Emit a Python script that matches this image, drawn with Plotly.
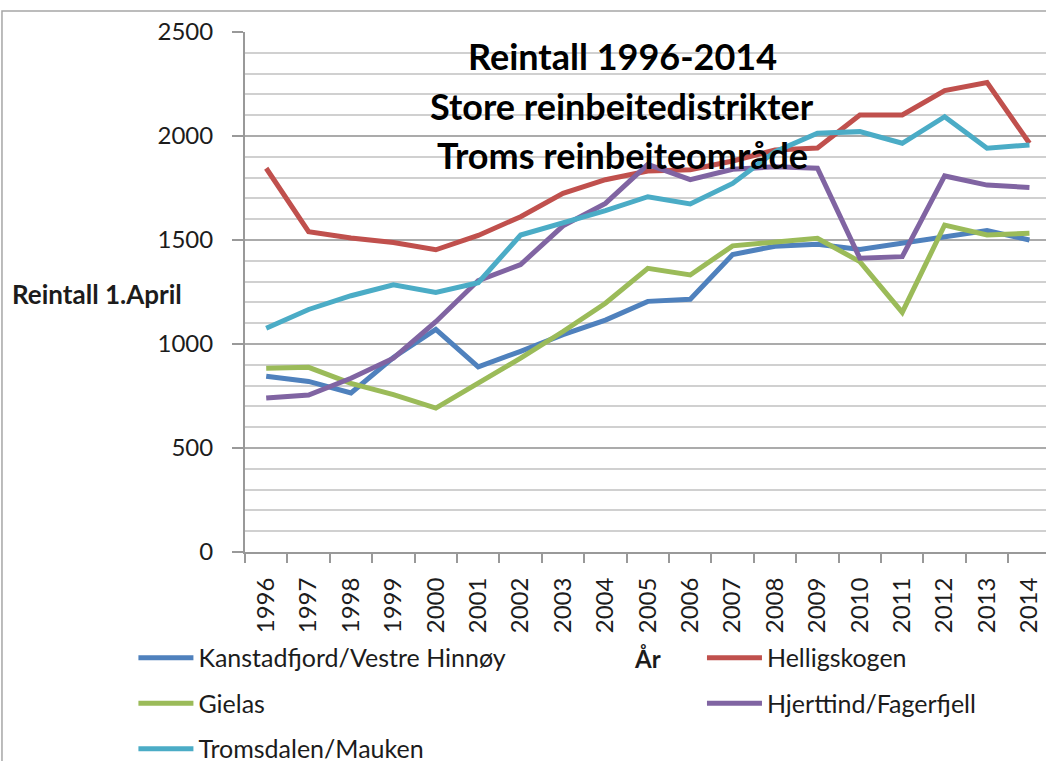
import plotly.graph_objects as go

years = [str(y) for y in range(1996, 2015)]

kanstadfjord = [845, 820, 765, 935, 1070, 890, 965, 1045, 1115, 1205, 1215, 1430, 1470, 1480, 1455, 1487, 1517, 1545, 1500]
helligskogen = [1845, 1540, 1510, 1488, 1453, 1522, 1612, 1724, 1790, 1832, 1838, 1880, 1933, 1942, 2101, 2101, 2218, 2257, 1965]
gielas = [883, 888, 811, 757, 692, 812, 932, 1060, 1196, 1364, 1332, 1472, 1487, 1508, 1396, 1152, 1572, 1524, 1532]
hjerttind = [740, 755, 835, 932, 1107, 1305, 1382, 1568, 1676, 1864, 1790, 1840, 1852, 1845, 1412, 1420, 1808, 1764, 1753]
tromsdalen = [1076, 1166, 1232, 1285, 1248, 1295, 1524, 1580, 1641, 1708, 1673, 1772, 1925, 2013, 2021, 1965, 2093, 1941, 1957]

series = [
    ("Kanstadfjord/Vestre Hinnøy", kanstadfjord, "#4F81BD", "legend"),
    ("Helligskogen", helligskogen, "#C0504D", "legend2"),
    ("Gielas", gielas, "#9BBB59", "legend"),
    ("Hjerttind/Fagerfjell", hjerttind, "#8064A2", "legend2"),
    ("Tromsdalen/Mauken", tromsdalen, "#4BACC6", "legend"),
]

title_lines = ["Reintall 1996-2014", "Store reinbeitedistrikter", "Troms reinbeiteområde"]
title_y = [0.953, 0.858, 0.764]

FONT = "Lato"
TXT = "#1c1c1c"

fig = go.Figure()
for name, vals, color, leg in series:
    fig.add_trace(go.Scatter(
        x=years, y=vals, name=name, mode="lines",
        line=dict(color=color, width=5),
        legend=leg, legendgroup=name,
    ))

# two legends side by side (left column / right column like the original)
legend_common = dict(
    orientation="v", traceorder="grouped", tracegroupgap=10,
    itemwidth=55, font=dict(family=FONT, size=25, color=TXT),
    bgcolor="rgba(0,0,0,0)", xanchor="left", yanchor="top", y=-0.1596,
)

annotations = [
    dict(text=t, x=0.4707, y=yy, xref="paper", yref="paper", showarrow=False,
         xanchor="center", yanchor="middle",
         font=dict(family=FONT, size=36, color="#000000", weight="bold"))
    for t, yy in zip(title_lines, title_y)
]
annotations.append(dict(text="Reintall 1.April", x=-0.2934, y=0.496, xref="paper", yref="paper",
                        showarrow=False, xanchor="left", yanchor="middle",
                        font=dict(family=FONT, size=26, color=TXT, weight="bold")))
annotations.append(dict(text="År", x=0.503, y=-0.204, xref="paper", yref="paper",
                        showarrow=False, xanchor="center", yanchor="middle",
                        font=dict(family=FONT, size=24, color=TXT, weight="bold")))

fig.update_layout(
    width=1046, height=761,
    margin=dict(l=245, r=0, t=32, b=209, autoexpand=False),
    paper_bgcolor="white", plot_bgcolor="white",
    font=dict(family=FONT, color=TXT),
    showlegend=True,
    legend=dict(legend_common, x=-0.1393),
    legend2=dict(legend_common, x=0.5705),
    annotations=annotations,
    shapes=[dict(type="rect", xref="paper", yref="paper",
                 x0=-0.3034, x1=1.02, y0=-0.45, y1=1.0404,
                 line=dict(color="#A6A6A6", width=1.5), fillcolor="rgba(0,0,0,0)", layer="below")],
    xaxis=dict(
        type="category", range=[-0.5, 18.39], tickson="boundaries",
        ticks="outside", ticklen=9, tickwidth=2, tickcolor="#999999",
        showline=True, linecolor="#999999", linewidth=2,
        showgrid=False, tickangle=-90, automargin=False, ticklabelstandoff=14,
        tickfont=dict(family=FONT, size=24, color=TXT),
    ),
    yaxis=dict(
        range=[0, 2500], dtick=500, tick0=0,
        ticks="outside", ticklen=11, tickwidth=2, tickcolor="#999999",
        showline=True, linecolor="#999999", linewidth=2,
        showgrid=True, gridcolor="#ABABAB", gridwidth=2,
        zeroline=False, ticklabelstandoff=14, automargin=False,
        tickfont=dict(family=FONT, size=24, color=TXT),
        minor=dict(dtick=100, showgrid=True, gridcolor="#D0D0D0", gridwidth=2),
    ),
)

# the page body has a default 8px margin; drop it so the figure fills the window
fig.write_html("out.html", config={"displayModeBar": False},
               post_script="document.body.style.margin = '0';")
